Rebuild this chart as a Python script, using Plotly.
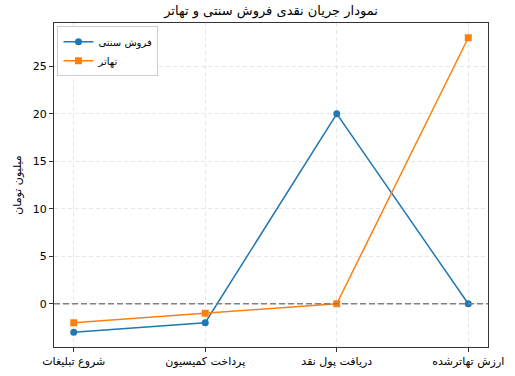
import plotly.graph_objects as go

categories = ["شروع تبلیغات", "پرداخت کمیسیون", "دریافت پول نقد", "ارزش تهاترشده"]
traditional = [-3, -2, 20, 0]
barter = [-2, -1, 0, 28]
y_ticks = [0, 5, 10, 15, 20, 25]

x_idx = list(range(len(categories)))
font = "DejaVu Sans"

fig = go.Figure()
fig.add_trace(go.Scatter(x=x_idx, y=traditional, mode="lines+markers", name="فروش سنتی",
                         line=dict(color="#1f77b4", width=1.5),
                         marker=dict(symbol="circle", size=7, color="#1f77b4")))
fig.add_trace(go.Scatter(x=x_idx, y=barter, mode="lines+markers", name="تهاتر",
                         line=dict(color="#ff7f0e", width=1.5),
                         marker=dict(symbol="square", size=7, color="#ff7f0e")))
fig.add_hline(y=0, line=dict(color="#808080", width=1.5, dash="6px,3px"), layer="above")

fig.update_layout(
    width=515, height=376,
    margin=dict(l=54, r=27, t=23, b=29),
    paper_bgcolor="white", plot_bgcolor="white",
    font=dict(family=font, size=11, color="black"),
    title=dict(text="نمودار جریان نقدی فروش سنتی و تهاتر", x=(54 + 488) / 2 / 515, xanchor="center",
               y=0.985, yanchor="top", font=dict(size=13)),
    showlegend=True,
    legend=dict(x=0.008, y=0.99, xanchor="left", yanchor="top",
                bgcolor="rgba(255,255,255,0.8)", bordercolor="#cccccc", borderwidth=1,
                font=dict(size=10), tracegroupgap=0, itemwidth=30),
    xaxis=dict(range=[-0.15, 3.15], tickmode="array", tickvals=x_idx, ticktext=categories,
               showgrid=True, gridcolor="#e6e6e6", griddash="4px,3px", gridwidth=1,
               zeroline=False, showline=True, linecolor="#333333", linewidth=1, mirror=True,
               ticks="outside", ticklen=4, tickcolor="#333333", automargin=False),
    yaxis=dict(range=[-4.55, 29.55], tickmode="array", tickvals=y_ticks,
               showgrid=True, gridcolor="#e6e6e6", griddash="4px,3px", gridwidth=1,
               zeroline=False, showline=True, linecolor="#333333", linewidth=1, mirror=True,
               ticks="outside", ticklen=4, tickcolor="#333333", automargin=False,
               title=dict(text="میلیون تومان", standoff=8, font=dict(size=11))),
)

fig.write_html("out.html", post_script="document.body.style.margin='0';",
               config={"displayModeBar": False})
